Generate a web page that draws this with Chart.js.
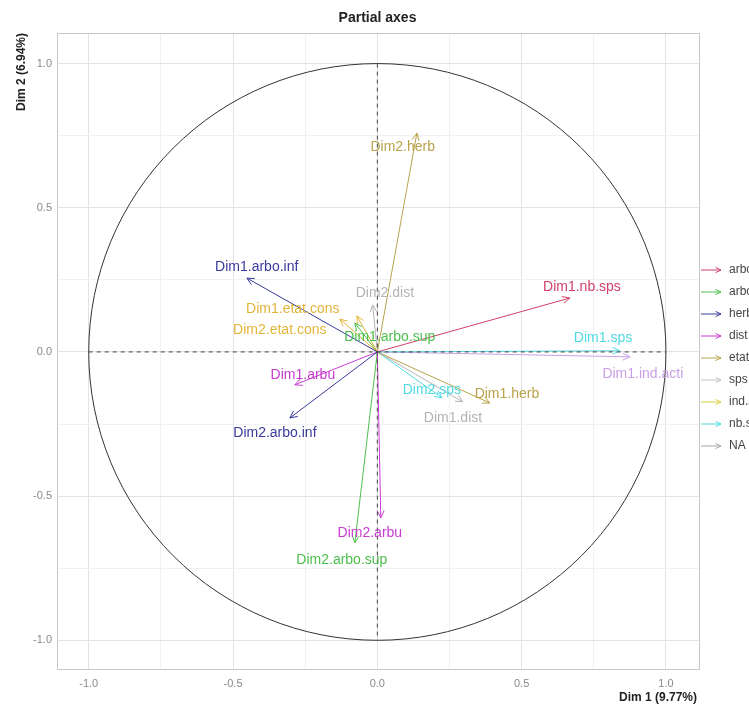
<!DOCTYPE html>
<html>
<head>
<meta charset="utf-8">
<script src="https://cdn.jsdelivr.net/npm/chart.js@4.4.0/dist/chart.umd.min.js"></script>
<style>
  html, body { margin: 0; padding: 0; background: #fff; }
</style>
</head>
<body>
<canvas id="partialChart" width="749" height="706"></canvas>
<script>
// partial axes, arrow tips
const arrowNames = ['Dim1.nb.sps', 'Dim1.arbo.inf', 'Dim2.arbo.inf', 'Dim1.arbu', 'Dim2.arbu',
    'Dim1.etat.cons', 'Dim2.etat.cons', 'Dim1.arbo.sup', 'Dim2.arbo.sup', 'Dim1.herb', 'Dim2.herb',
    'Dim1.dist', 'Dim2.dist', 'Dim1.sps', 'Dim2.sps', 'Dim1.ind.acti'];
const arrowX = [0.667, -0.452, -0.303, -0.286, 0.012, -0.130, -0.071, -0.078, -0.078, 0.390, 0.137,
    0.296, -0.016, 0.840, 0.224, 0.875];
const arrowY = [0.187, 0.256, -0.229, -0.114, -0.575, 0.114, 0.125, 0.100, -0.662, -0.177, 0.759,
    -0.173, 0.163, 0.004, -0.159, -0.017];
// where each label sits (data units)
const labelX = [0.709, -0.418, -0.355, -0.258, -0.026, -0.293, -0.338, 0.043, -0.123, 0.449, 0.088,
    0.262, 0.026, 0.782, 0.189, 0.920];
const labelY = [0.225, 0.295, -0.281, -0.080, -0.627, 0.149, 0.076, 0.052, -0.721, -0.146, 0.711,
    -0.229, 0.205, 0.049, -0.132, -0.076];

const colNb = '#d0406a', colInf = '#3a3a9c', colArbu = '#c83ccf', colEtat = '#e2b53a',
    colSup = '#4cbf4c', colHerb = '#b9a24a', colDist = '#b4b4b4', colSps = '#4fd9e3', colInd = '#c9a0e8';
const arrowColors = [colNb, colInf, colInf, colArbu, colArbu, colEtat, colEtat, colSup, colSup,
    colHerb, colHerb, colDist, colDist, colSps, colSps, colInd];

const legendNames = ['arbo.inf', 'arbo.sup', 'herb', 'dist', 'etat.cons', 'sps', 'ind.acti', 'nb.sps', 'NA'];
const legendColors = ['#d0406a', '#4cbf4c', '#3a3a9c', '#c83ccf', '#b9a24a', '#c4c4c4', '#d8d040', '#4fd9e3', '#a8a8a8'];

const tickValues = [-1, -0.5, 0, 0.5, 1];
const tickLabels = ['-1.0', '-0.5', '0.0', '0.5', '1.0'];

const FONT = '"Liberation Sans", Arial, sans-serif';

function drawHead(ctx, x0, y0, x1, y1, len) {
    const a = Math.atan2(y1 - y0, x1 - x0);
    const spread = Math.PI / 7;
    ctx.beginPath();
    ctx.moveTo(x1 - len * Math.cos(a - spread), y1 - len * Math.sin(a - spread));
    ctx.lineTo(x1, y1);
    ctx.lineTo(x1 - len * Math.cos(a + spread), y1 - len * Math.sin(a + spread));
    ctx.stroke();
}

const decor = {
    id: 'decor',
    beforeDatasetsDraw(chart) {
        const { ctx, chartArea: a, scales: { x, y } } = chart;
        ctx.save();
        // unit circle
        const cx = x.getPixelForValue(0), cy = y.getPixelForValue(0);
        const rx = x.getPixelForValue(1) - cx, ry = cy - y.getPixelForValue(1);
        ctx.strokeStyle = '#333';
        ctx.lineWidth = 1;
        ctx.beginPath();
        ctx.ellipse(cx, cy, rx, ry, 0, 0, Math.PI * 2);
        ctx.stroke();
        ctx.restore();
    },
    afterDatasetsDraw(chart) {
        const { ctx, chartArea: a, scales: { x, y } } = chart;
        ctx.save();
        // arrow heads
        chart.data.datasets.forEach((ds, i) => {
            const pts = chart.getDatasetMeta(i).data;
            ctx.strokeStyle = ds.borderColor;
            ctx.lineWidth = 1;
            drawHead(ctx, pts[0].x, pts[0].y, pts[1].x, pts[1].y, 8);
        });
        // dashed axes through origin
        const cx = x.getPixelForValue(0), cy = y.getPixelForValue(0);
        const x1 = x.getPixelForValue(-1), x2 = x.getPixelForValue(1);
        const y1 = y.getPixelForValue(1), y2 = y.getPixelForValue(-1);
        ctx.strokeStyle = '#444';
        ctx.setLineDash([4, 4]);
        ctx.beginPath();
        ctx.moveTo(x1, cy); ctx.lineTo(x2, cy);
        ctx.moveTo(cx, y1); ctx.lineTo(cx, y2);
        ctx.stroke();
        ctx.setLineDash([]);
        // labels
        ctx.font = '14px ' + FONT;
        ctx.textAlign = 'center';
        ctx.textBaseline = 'middle';
        arrowNames.forEach((n, i) => {
            ctx.fillStyle = arrowColors[i];
            ctx.fillText(n, x.getPixelForValue(labelX[i]), y.getPixelForValue(labelY[i]));
        });
        // panel border
        ctx.strokeStyle = '#c8c8c8';
        ctx.strokeRect(a.left + 0.5, a.top + 0.5, a.right - a.left - 1, a.bottom - a.top - 1);
        ctx.restore();
    },
    afterDraw(chart) {
        const { ctx, chartArea: a } = chart;
        ctx.save();
        ctx.fillStyle = '#222';
        ctx.font = 'bold 14px ' + FONT;
        ctx.textAlign = 'center';
        ctx.textBaseline = 'middle';
        ctx.fillText('Partial axes', (a.left + a.right) / 2 - 1, 18);
        ctx.font = 'bold 12px ' + FONT;
        ctx.textAlign = 'right';
        ctx.fillText('Dim 1 (9.77%)', a.right - 3, 698);
        ctx.translate(22, a.top);
        ctx.rotate(-Math.PI / 2);
        ctx.textAlign = 'right';
        ctx.fillText('Dim 2 (6.94%)', 0, 0);
        ctx.restore();
        // legend
        ctx.save();
        ctx.font = '12px ' + FONT;
        ctx.textAlign = 'left';
        ctx.textBaseline = 'middle';
        legendNames.forEach((n, i) => {
            const ly = 270 + i * 22;
            ctx.strokeStyle = legendColors[i];
            ctx.lineWidth = 1;
            ctx.beginPath();
            ctx.moveTo(701, ly); ctx.lineTo(721, ly);
            ctx.stroke();
            drawHead(ctx, 701, ly, 721, ly, 6);
            ctx.fillStyle = '#444';
            ctx.fillText(n, 729, ly);
        });
        ctx.restore();
    }
};

const datasets = arrowNames.map((n, i) => ({
    label: n,
    data: [{ x: 0, y: 0 }, { x: arrowX[i], y: arrowY[i] }],
    showLine: true,
    borderColor: arrowColors[i],
    borderWidth: 1,
    pointRadius: 0,
    fill: false
}));

function gridColor(ctx) {
    const v = ctx.tick ? ctx.tick.value : 0;
    return tickValues.some(t => Math.abs(t - v) < 1e-6) ? '#e3e3e3' : '#f1f1f1';
}

function tickText(v) {
    const k = tickValues.findIndex(t => Math.abs(t - v) < 1e-6);
    return k >= 0 ? tickLabels[k] : '';
}

new Chart(document.getElementById('partialChart'), {
    type: 'scatter',
    data: { datasets },
    options: {
        responsive: false,
        animation: false,
        devicePixelRatio: 1,
        layout: { padding: { left: 0, top: 33, right: 49, bottom: 0 } },
        plugins: {
            legend: { display: false },
            tooltip: { enabled: false }
        },
        scales: {
            x: {
                type: 'linear',
                min: -1.11,
                max: 1.118,
                afterFit(s) { s.height = 36; },
                grid: { color: gridColor, drawTicks: false },
                border: { display: false },
                ticks: {
                    stepSize: 0.25,
                    includeBounds: false,
                    autoSkip: false,
                    maxRotation: 0,
                    padding: 7,
                    color: '#8a8a8a',
                    font: { family: FONT, size: 11 },
                    callback: tickText
                }
            },
            y: {
                type: 'linear',
                min: -1.103,
                max: 1.106,
                afterFit(s) { s.width = 57; },
                grid: { color: gridColor, drawTicks: false },
                border: { display: false },
                ticks: {
                    stepSize: 0.25,
                    includeBounds: false,
                    autoSkip: false,
                    padding: 5,
                    color: '#8a8a8a',
                    font: { family: FONT, size: 11 },
                    callback: tickText
                }
            }
        }
    },
    plugins: [decor]
});
</script>
</body>
</html>
